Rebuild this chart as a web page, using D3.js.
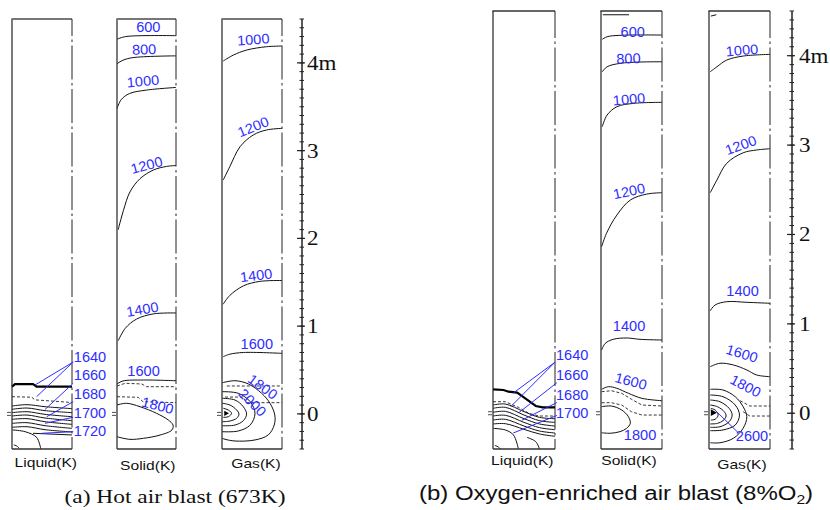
<!DOCTYPE html>
<html>
<head>
<meta charset="utf-8">
<script src="https://cdn.jsdelivr.net/npm/d3@7"></script>
<style>
  body { margin: 0; background: #fff; }
  svg { display: block; }
</style>
</head>
<body>
<div id="chart"></div>
<script>
// height axis (m) and labels
const zDomain = [-0.4, 4.5];
const zTicks = [0, 1, 2, 3, 4];
const zTickText = ["0", "1", "2", "3", "4m"];
const phaseNames = ["Liquid(K)", "Solid(K)", "Gas(K)"];
const captions = ["(a) Hot air blast (673K)", "(b) Oxygen-enriched air blast (8%O\u2082)"];

// isotherms: [level, [[r, z], ...]]   r: 0 = wall .. 1 = centre line, z in m
const aLiquidFront = [[0, 0.31], [0.05, 0.34], [0.35, 0.34], [0.41, 0.31], [1, 0.31]];
const aLiquidCZ = [[[0, 0.196], [0.33, 0.19], [0.38, 0.16], [1, 0.13]]];
const aLiquidIso = [
  [1660, [[0, 0.090], [0.25, 0.105], [0.55, 0.082], [1, 0.060]]],
  [1670, [[0, 0.052], [0.25, 0.067], [0.55, 0.037], [1, 0.014]]],
  [1680, [[0, 0.014], [0.25, 0.025], [0.55, -0.005], [1, -0.032]]],
  [1690, [[0, -0.024], [0.25, -0.013], [0.55, -0.047], [1, -0.077]]],
  [1700, [[0, -0.062], [0.25, -0.054], [0.55, -0.089], [1, -0.119]]],
  [1710, [[0, -0.108], [0.25, -0.100], [0.55, -0.134], [1, -0.165]]],
  [1715, [[0, -0.153], [0.25, -0.146], [0.55, -0.180], [1, -0.206]]],
  [1720, [[0.35, -0.221], [1, -0.240]]],
  [1730, [[0.01, -0.183], [0.22, -0.203], [0.41, -0.267], [0.48, -0.40]]],
  [1740, [[0.03, -0.354], [0.08, -0.366], [0.12, -0.392]]]
];
const aLiquidLabels = [["1640", 1.03, 0.652], ["1660", 1.03, 0.443], ["1680", 1.03, 0.227], ["1700", 1.03, 0.014], ["1720", 1.03, -0.195]];
const aLiquidLeaders = [
  [[1.02, 0.591], [0.383, 0.329]], [[1.02, 0.591], [0.41, 0.196]],
  [[1.02, 0.349], [0.55, 0.05]], [[1.02, 0.139], [0.578, -0.032]],
  [[1.02, -0.039], [0.55, -0.107]], [[1.02, -0.203], [0.495, -0.221]]
];

const aSolidIso = [
  [600, [[0, 4.27], [0.15, 4.30], [1, 4.31]]],
  [800, [[0, 3.99], [0.1, 4.03], [0.27, 4.06], [1, 4.08]]],
  [1000, [[0, 3.48], [0.07, 3.58], [0.21, 3.65], [0.5, 3.69], [1, 3.72]]],
  [1200, [[0.02, 2.10], [0.11, 2.32], [0.22, 2.53], [0.39, 2.68], [0.62, 2.78], [0.84, 2.82], [1, 2.83]]],
  [1400, [[0.02, 0.834], [0.14, 0.975], [0.33, 1.08], [0.62, 1.14], [1, 1.15]]],
  [1600, [[0, 0.341], [0.1, 0.375], [0.45, 0.386], [1, 0.378]]],
  [1800, [[0, 0.101], [0.16, 0.121], [0.39, 0.082], [0.67, 0.007], [0.87, -0.07], [0.95, -0.127],
          [0.93, -0.184], [0.73, -0.241], [0.45, -0.278], [0.22, -0.29], [0, -0.26]]]
];
const aSolidCZ = [
  [[0, 0.318], [0.14, 0.349], [0.42, 0.341], [0.5, 0.31], [1, 0.31]],
  [[0, 0.196], [0.36, 0.189], [0.44, 0.139], [1, 0.128]]
];
const aSolidLabels = [["600", 0.53, 4.405], ["800", 0.46, 4.154], ["1000", 0.44, 3.793], ["1200", 0.50, 2.836],
                      ["1400", 0.43, 1.193], ["1600", 0.45, 0.491], ["1800", 0.69, 0.098]];
const aSolidTilt = [0, -2, -5, -15, -10, 0, 14];

const aGasIso = [
  [1000, [[0.02, 4.021], [0.19, 4.089], [0.41, 4.146], [0.74, 4.184], [1, 4.192]]],
  [1200, [[0.02, 2.665], [0.13, 2.817], [0.3, 3.044], [0.52, 3.178], [0.74, 3.235], [1, 3.254]]],
  [1400, [[0.02, 1.25], [0.13, 1.35], [0.36, 1.46], [0.63, 1.51], [1, 1.52]]],
  [1600, [[0.02, 0.652], [0.13, 0.68], [0.36, 0.70], [1, 0.69]]],
  [1800, [[0.005, 0.355], [0.217, 0.378], [0.44, 0.341], [0.66, 0.235], [0.8, 0.121], [0.88, -0.013],
          [0.87, -0.127], [0.77, -0.24], [0.55, -0.297], [0.217, -0.309], [0.05, -0.289], [0.005, -0.278]]],
  [2000, [[0.005, 0.253], [0.27, 0.235], [0.47, 0.139], [0.55, 0.007], [0.47, -0.127], [0.27, -0.195], [0.005, -0.203]]],
  [2200, [[0.005, 0.178], [0.217, 0.158], [0.355, 0.082], [0.41, -0.002], [0.355, -0.078], [0.217, -0.127], [0.005, -0.135]]],
  [2400, [[0.005, 0.121], [0.133, 0.101], [0.245, 0.044], [0.283, -0.002], [0.245, -0.05], [0.133, -0.081], [0.005, -0.089]]],
  [2600, [[0.022, 0.064], [0.105, 0.044], [0.16, 0.007], [0.105, -0.032], [0.022, -0.039]]]
];
const aGasCZ = [
  [[0.08, 0.318], [1, 0.318]],
  [[0.05, 0.192], [0.355, 0.192], [0.4, 0.128], [1, 0.128]]
];
const aGasHot = [[0.038, 0.036], [0.038, -0.025], [0.117, 0.007]];
const aGasLabels = [["1000", 0.52, 4.268], ["1200", 0.52, 3.273], ["1400", 0.57, 1.579], ["1600", 0.58, 0.799],
                    ["1800", 0.68, 0.31], ["2000", 0.51, 0.13]];
const aGasTilt = [-4, -22, -7, 0, 36, 45];

const bLiquidFront = [[0, 0.268], [0.17, 0.26], [0.25, 0.241], [0.39, 0.23], [0.52, 0.167], [0.69, 0.081], [0.8, 0.066], [1, 0.066]];
const bLiquidCZ = [[[0, 0.129], [0.2, 0.129], [0.41, 0.066], [0.58, -0.001], [0.74, -0.031], [1, -0.031]]];
const bLiquidIso = [
  [1660, [[0, 0.092], [0.2, 0.103], [0.5, 0.018], [0.75, -0.046], [1, -0.061]]],
  [1670, [[0, 0.055], [0.2, 0.066], [0.5, -0.020], [0.75, -0.083], [1, -0.102]]],
  [1680, [[0, 0.010], [0.2, 0.021], [0.5, -0.061], [0.75, -0.120], [1, -0.143]]],
  [1690, [[0, -0.031], [0.2, -0.023], [0.5, -0.102], [0.75, -0.161], [1, -0.184]]],
  [1700, [[0, -0.076], [0.2, -0.068], [0.5, -0.143], [0.75, -0.199], [1, -0.221]]],
  [1710, [[0, -0.120], [0.2, -0.117], [0.5, -0.180], [0.75, -0.232], [1, -0.258]]],
  [1720, [[0, -0.169], [0.2, -0.1875], [0.33, -0.243], [0.41, -0.40]]],
  [1725, [[0.55, -0.27], [0.69, -0.318], [0.75, -0.40]]],
  [1740, [[0.03, -0.36], [0.08, -0.375], [0.12, -0.40]]]
];
const bLiquidLabels = [["1640", 1.016, 0.648], ["1660", 1.016, 0.424], ["1680", 1.016, 0.207], ["1700", 1.016, 0.005]];
const bLiquidLeaders = [
  [[1.0, 0.571], [0.327, 0.226]], [[1.0, 0.571], [0.287, 0.074]],
  [[1.03, 0.342], [0.42, 0.008]], [[1.03, 0.12], [0.463, -0.079]],
  [[1.03, -0.025], [0.327, -0.221]]
];

const bSolidIso = [
  [400, [[0.03, 4.458], [0.46, 4.458]]],
  [600, [[0.02, 4.183], [0.1, 4.212], [0.31, 4.228], [1, 4.231]]],
  [800, [[0.02, 3.82], [0.1, 3.876], [0.31, 3.914], [0.64, 3.929], [1, 3.932]]],
  [1000, [[0.02, 3.205], [0.1, 3.336], [0.26, 3.429], [0.54, 3.467], [1, 3.478]]],
  [1200, [[0.01, 1.863], [0.09, 2.013], [0.26, 2.217], [0.48, 2.385], [0.75, 2.452], [1, 2.467]]],
  [1400, [[0.01, 0.707], [0.07, 0.782], [0.2, 0.827], [0.42, 0.842], [0.64, 0.827], [1, 0.819]]],
  [1600, [[0.01, 0.268], [0.12, 0.297], [0.26, 0.279], [0.45, 0.223], [0.67, 0.167], [1, 0.14]]],
  [1800, [[0.01, 0.073], [0.17, 0.081], [0.34, 0.036], [0.45, -0.039], [0.48, -0.113], [0.42, -0.169],
          [0.31, -0.206], [0.15, -0.224], [0.01, -0.218]]]
];
const bSolidCZ = [
  [[0.01, 0.241], [0.17, 0.252], [0.34, 0.223], [0.5, 0.156], [0.67, 0.092], [1, 0.081]],
  [[0.01, 0.118], [0.17, 0.118], [0.34, 0.092], [0.5, 0.017], [0.67, -0.02], [1, -0.02]]
];
const bSolidLabels = [["600", 0.52, 4.261], ["800", 0.45, 3.97], ["1000", 0.46, 3.515], ["1200", 0.46, 2.486],
                      ["1400", 0.46, 0.979], ["1600", 0.49, 0.361], ["1800", 0.64, -0.24]];
const bSolidTilt = [0, -2, -5, -12, 0, 15, 0];

const bGasIso = [
  [400, [[0.03, 4.443], [0.12, 4.458]]],
  [1000, [[0.02, 3.82], [0.13, 3.876], [0.29, 3.951], [0.56, 3.996], [1, 4.015]]],
  [1200, [[0.02, 2.467], [0.13, 2.609], [0.29, 2.796], [0.56, 2.914], [0.78, 2.945], [1, 2.959]]],
  [1400, [[0.02, 1.147], [0.1, 1.211], [0.29, 1.248], [0.62, 1.241], [1, 1.23]]],
  [1600, [[0.02, 0.521], [0.18, 0.559], [0.4, 0.54], [0.62, 0.484], [0.78, 0.428], [1, 0.409]]],
  [1800, [[0.02, 0.268], [0.23, 0.26], [0.43, 0.185], [0.56, 0.073], [0.62, -0.039], [0.56, -0.168],
          [0.4, -0.28], [0.18, -0.33], [0.02, -0.33]]],
  [2000, [[0.02, 0.204], [0.23, 0.185], [0.43, 0.092], [0.5, -0.02], [0.43, -0.132], [0.23, -0.187], [0.02, -0.195]]],
  [2200, [[0.02, 0.148], [0.18, 0.129], [0.33, 0.055], [0.38, -0.02], [0.33, -0.095], [0.18, -0.151], [0.02, -0.157]]],
  [2400, [[0.02, 0.092], [0.14, 0.073], [0.25, 0.017], [0.28, -0.031], [0.23, -0.083], [0.14, -0.113], [0.02, -0.12]]],
  [2600, [[0.03, 0.055], [0.1, 0.036], [0.15, -0.02], [0.1, -0.068], [0.03, -0.076]]]
];
const bGasCZ = [
  [[0.51, 0.14], [0.67, 0.081], [1, 0.081]],
  [[0.56, 0.017], [0.67, -0.031], [1, -0.031]]
];
const bGasHot = [[0.03, 0.044], [0.03, -0.031], [0.13, 0.006]];
const bGasLabels = [["1000", 0.54, 4.063], ["1200", 0.52, 3.0], ["1400", 0.55, 1.371], ["1600", 0.54, 0.67],
                    ["1800", 0.6, 0.307], ["2600", 0.705, -0.255]];
const bGasTilt = [-5, -20, 0, 17, 28, 0];
const bGasLeaders = [[[0.475, -0.215], [0.098, 0.036]]];

// page layout
const W = 830, H = 510;
const SX = 1.2; // the figure text is stretched sideways
const BLUE = "#2e2eff";
const SANS = "'Liberation Sans', Arial, sans-serif";
const SERIF = "'Liberation Serif', 'Times New Roman', serif";

const figures = [
  {
    x0: [12, 117, 222], w: [60, 59, 60], top: 19, bottom: 449, axisX: 302, labDx: 5,
    nameX: [45.8, 147.8, 256], nameY: [466.5, 470, 467.5],
    capX: 175, capY: 502.5, capFont: SERIF, capSize: 19.5,
    topW: 2, topC: "#777", dashOff: 17,
    panels: [
      { iso: aLiquidIso, cz: aLiquidCZ, front: aLiquidFront, labels: aLiquidLabels, leaders: aLiquidLeaders, side: true },
      { iso: aSolidIso, cz: aSolidCZ, labels: aSolidLabels, tilt: aSolidTilt },
      { iso: aGasIso, cz: aGasCZ, hot: aGasHot, labels: aGasLabels, tilt: aGasTilt }
    ]
  },
  {
    x0: [493, 601, 709], w: [62, 61, 61], top: 11, bottom: 449, axisX: 792, labDx: 7,
    nameX: [522.3, 629, 742], nameY: [465, 464.5, 469],
    capX: 616, capY: 500, capFont: SANS, capSize: 20,
    topW: 1.3, topC: "#333", dashOff: 7,
    panels: [
      { iso: bLiquidIso, cz: bLiquidCZ, front: bLiquidFront, labels: bLiquidLabels, leaders: bLiquidLeaders, side: true },
      { iso: bSolidIso, cz: bSolidCZ, labels: bSolidLabels, tilt: bSolidTilt },
      { iso: bGasIso, cz: bGasCZ, hot: bGasHot, labels: bGasLabels, tilt: bGasTilt, leaders: bGasLeaders }
    ]
  }
];

const svg = d3.select("#chart").append("svg")
  .attr("width", W).attr("height", H)
  .style("font-family", SANS);

function stretch(sel, k) {
  sel.each(function () {
    const len = this.getComputedTextLength();
    d3.select(this).attr("textLength", len * k).attr("lengthAdjust", "spacingAndGlyphs");
  });
}

figures.forEach((fig, fi) => {
  const g = svg.append("g");
  const y = d3.scaleLinear().domain(zDomain).range([fig.bottom, fig.top]);

  fig.panels.forEach((p, i) => {
    const x = d3.scaleLinear().domain([0, 1]).range([fig.x0[i], fig.x0[i] + fig.w[i]]);
    const pg = g.append("g");
    const smooth = d3.line().x(d => x(d[0])).y(d => y(d[1])).curve(d3.curveCatmullRom.alpha(0.5));
    const straight = d3.line().x(d => x(d[0])).y(d => y(d[1]));

    // isotherms
    pg.selectAll("path.iso").data(p.iso).join("path")
      .attr("class", "iso")
      .attr("d", d => smooth(d[1]))
      .attr("fill", "none").attr("stroke", "#111").attr("stroke-width", 1);

    // cohesive zone boundaries
    pg.selectAll("path.cz").data(p.cz).join("path")
      .attr("class", "cz")
      .attr("d", d => straight(d))
      .attr("fill", "none").attr("stroke", "#222").attr("stroke-width", 0.9)
      .attr("stroke-dasharray", "3,2");

    if (p.front) {
      pg.append("path").attr("d", straight(p.front))
        .attr("fill", "none").attr("stroke", "#000").attr("stroke-width", 2.2);
    }
    if (p.hot) {
      pg.append("path").attr("d", straight(p.hot) + "Z").attr("fill", "#000");
    }

    // frame: left wall, bottom, top, dash-dot centre line
    pg.append("line").attr("x1", x(0)).attr("x2", x(0)).attr("y1", y(zDomain[1])).attr("y2", y(zDomain[0]))
      .attr("stroke", "#222").attr("stroke-width", 1.2);
    pg.append("line").attr("x1", x(0)).attr("x2", x(1)).attr("y1", y(zDomain[0])).attr("y2", y(zDomain[0]))
      .attr("stroke", "#333").attr("stroke-width", 1.3);
    pg.append("line").attr("x1", x(0) - 0.6).attr("x2", x(1)).attr("y1", y(zDomain[1])).attr("y2", y(zDomain[1]))
      .attr("stroke", fig.topC).attr("stroke-width", fig.topW);
    pg.append("line").attr("x1", x(1)).attr("x2", x(1)).attr("y1", y(zDomain[1])).attr("y2", y(zDomain[0]))
      .attr("stroke", "#222").attr("stroke-width", 1)
      .attr("stroke-dasharray", "34,3.5,2.5,3.5").attr("stroke-dashoffset", fig.dashOff);

    // tuyere mark
    [-1.5, 1.5].forEach(dy => {
      pg.append("line").attr("x1", x(0) - 5).attr("x2", x(0) - 1)
        .attr("y1", y(0) + dy).attr("y2", y(0) + dy)
        .attr("stroke", "#222").attr("stroke-width", 0.8);
    });

    // leaders
    if (p.leaders) {
      pg.selectAll("line.lead").data(p.leaders).join("line")
        .attr("class", "lead")
        .attr("x1", d => x(d[0][0])).attr("y1", d => y(d[0][1]))
        .attr("x2", d => x(d[1][0])).attr("y2", d => y(d[1][1]))
        .attr("stroke", BLUE).attr("stroke-width", 1);
    }

    // contour labels
    pg.selectAll("text.lab").data(p.labels).join("text")
      .attr("class", "lab")
      .attr("transform", (d, k) => `translate(${x(d[1])},${y(d[2])}) rotate(${p.side ? 0 : p.tilt[k]})`)
      .attr("text-anchor", p.side ? "start" : "middle")
      .attr("dy", "0.36em")
      .attr("font-size", 14)
      .attr("fill", BLUE)
      .text(d => d[0])
      .call(stretch, 1.04);

    // phase name
    pg.append("text")
      .attr("x", fig.nameX[i]).attr("y", fig.nameY[i])
      .attr("text-anchor", "middle").attr("font-size", 13).attr("fill", "#111")
      .text(phaseNames[i])
      .call(stretch, SX);
  });

  // height axis
  const ax = g.append("g");
  ax.append("line").attr("x1", fig.axisX).attr("x2", fig.axisX)
    .attr("y1", y(zDomain[1])).attr("y2", y(zDomain[0]))
    .attr("stroke", "#222").attr("stroke-width", 1.5);
  const minor = d3.range(-4, 46).map(d => d / 10);
  ax.selectAll("line.mn").data(minor).join("line")
    .attr("class", "mn")
    .attr("x1", fig.axisX - 2.5).attr("x2", fig.axisX + 2)
    .attr("y1", d => y(d)).attr("y2", d => y(d))
    .attr("stroke", "#222").attr("stroke-width", 1);
  ax.selectAll("line.mj").data(zTicks).join("line")
    .attr("class", "mj")
    .attr("x1", fig.axisX - 5).attr("x2", fig.axisX + 3)
    .attr("y1", d => y(d)).attr("y2", d => y(d))
    .attr("stroke", "#222").attr("stroke-width", 1.2);
  ax.selectAll("text").data(zTicks).join("text")
    .attr("x", fig.axisX + fig.labDx).attr("y", d => y(d) + 7)
    .attr("font-family", SERIF).attr("font-size", 20).attr("fill", "#111")
    .text((d, k) => zTickText[k])
    .call(stretch, 1.15);

  // caption
  const parts = captions[fi].split("\u2082");
  const cap = g.append("text")
    .attr("x", fig.capX).attr("y", fig.capY)
    .attr("text-anchor", "middle")
    .attr("font-family", fig.capFont).attr("font-size", fig.capSize).attr("fill", "#111");
  cap.append("tspan").text(parts[0]);
  if (parts.length > 1) {
    cap.append("tspan").attr("font-size", fig.capSize * 0.65).attr("dy", 4).text("2");
    cap.append("tspan").attr("dy", -4).text(parts[1]);
  }
  cap.call(stretch, SX);
});
</script>
</body>
</html>
